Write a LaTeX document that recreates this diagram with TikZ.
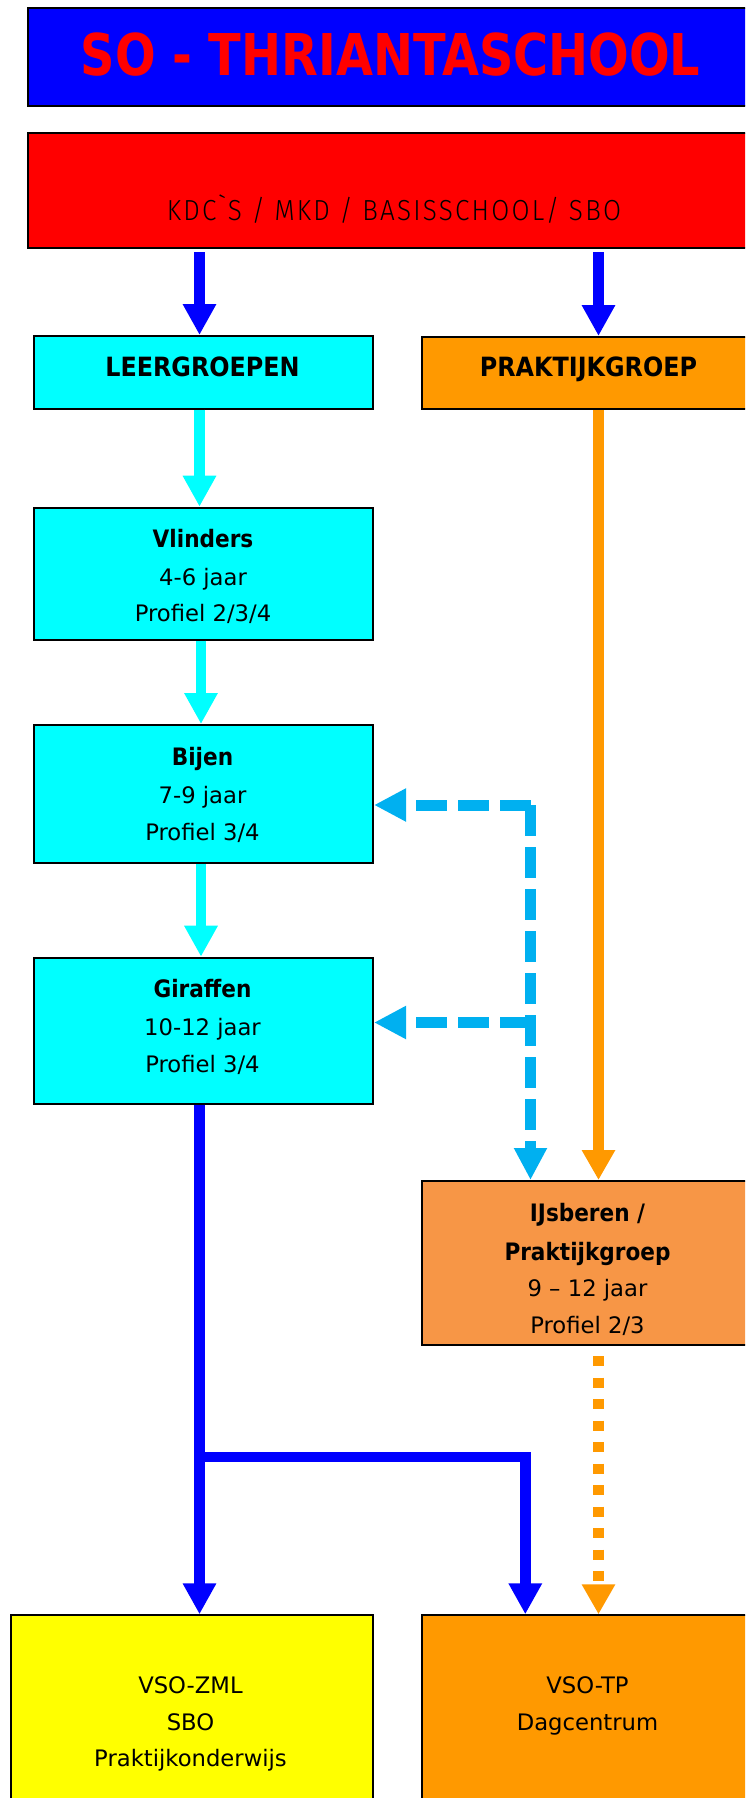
\documentclass[tikz,border=0pt]{standalone}
\usepackage{fontspec}
\setmainfont{DejaVu Sans}
\newfontfamily\titlefont[FakeStretch=0.83]{DejaVu Sans}
\newfontfamily\headfont[FakeStretch=0.9]{DejaVu Sans}
\newfontfamily\thinfont[FakeStretch=0.9,LetterSpace=7.6]{Fira Sans Light}
\usetikzlibrary{arrows.meta}
\definecolor{cBlue}{RGB}{0,0,255}
\definecolor{cRed}{RGB}{255,0,0}
\definecolor{cCyan}{RGB}{0,255,255}
\definecolor{cOrange}{RGB}{255,153,0}
\definecolor{cTan}{RGB}{247,150,70}
\definecolor{cYellow}{RGB}{255,255,0}
\definecolor{cSky}{RGB}{0,176,240}
\tikzset{
  box/.style={draw=black, line width=2pt, rectangle, inner sep=0pt, anchor=north west},
  txt/.style={anchor=base, inner sep=0pt, font=\fontsize{22.7}{28}\selectfont},
  hd/.style={anchor=base, inner sep=0pt, font=\headfont\bfseries\fontsize{24}{28}\selectfont},
  bighd/.style={anchor=base, inner sep=0pt, font=\headfont\bfseries\fontsize{26.5}{30}\selectfont},
  arrB/.style={draw=cBlue, line width=10.7pt, -{Triangle[width=31.5pt,length=31pt]}},
  arrC/.style={draw=cCyan, line width=10.7pt, -{Triangle[width=31.5pt,length=31pt]}},
  arrO/.style={draw=cOrange, line width=10.7pt, -{Triangle[width=31.5pt,length=30pt]}},
  arrD/.style={draw=cSky, line width=11pt, dash pattern=on 31pt off 11pt, -{Triangle[width=31pt,length=32pt]}},
  arrDot/.style={draw=cOrange, line width=10.7pt, dash pattern=on 10pt off 11.5pt, -{Triangle[width=31.5pt,length=30pt]}},
}
\begin{document}
\begin{tikzpicture}[x=1pt,y=-1pt]
\useasboundingbox (0,0) rectangle (745,1798);
\clip (0,0) rectangle (745,1798);
\fill[white] (0,0) rectangle (745,1798);

% columns and junctions
\coordinate (cL) at (199.5,0);
\coordinate (cL2) at (201,0);
\coordinate (cR) at (598.5,0);
\coordinate (cM) at (525.3,0);
\coordinate (jB) at (530.5,805);
\coordinate (jG) at (530.5,1022.5);
\coordinate (jH) at (199.5,1457);

% boxes
\node[box, fill=cBlue, minimum width=727pt, minimum height=98pt] (title) at (27,7) {};
\node[box, fill=cRed, minimum width=727pt, minimum height=115.3pt] (kdc) at (27,131.7) {};
\node[box, fill=cCyan, minimum width=339pt, minimum height=72.7pt] (lg) at (33,335) {};
\node[box, fill=cOrange, minimum width=334pt, minimum height=72pt] (pg) at (420.5,336) {};
\node[box, fill=cCyan, minimum width=339pt, minimum height=132pt] (vl) at (33,506.7) {};
\node[box, fill=cCyan, minimum width=339pt, minimum height=138.3pt] (bj) at (33,724) {};
\node[box, fill=cCyan, minimum width=339pt, minimum height=146pt] (gf) at (33,956.7) {};
\node[box, fill=cTan, minimum width=333.3pt, minimum height=164pt] (ij) at (420.7,1180) {};
\node[box, fill=cYellow, minimum width=362.5pt, minimum height=260pt] (zml) at (9.5,1614.3) {};
\node[box, fill=cOrange, minimum width=333.3pt, minimum height=260pt] (tp) at (420.7,1614.3) {};

% texts
\node[anchor=base, inner sep=0pt, text=cRed, font=\titlefont\bfseries\fontsize{57.6}{60}\selectfont] (titletxt) at (390.5,76) {SO - THRIANTASCHOOL};
\node[anchor=base, inner sep=0pt, font=\thinfont\fontsize{29}{32}\selectfont] (kdctxt) at (394,220) {KDC`S / MKD / BASISSCHOOL/ SBO};
\node[bighd] (lgtxt) at (202.5,376.7) {LEERGROEPEN};
\node[bighd] (pgtxt) at (588.5,376.7) {PRAKTIJKGROEP};

\node[hd] (vl1) at (203,547.7) {Vlinders};
\node[txt] (vl2) at (203,585) {4-6 jaar};
\node[txt] (vl3) at (203,621.7) {Profiel 2/3/4};

\node[hd] (bj1) at (202.5,765) {Bijen};
\node[txt] (bj2) at (202.5,803) {7-9 jaar};
\node[txt] (bj3) at (202.5,840) {Profiel 3/4};

\node[hd] (gf1) at (202.5,997.7) {Giraffen};
\node[txt] (gf2) at (202.5,1035) {10-12 jaar};
\node[txt] (gf3) at (202.5,1072.7) {Profiel 3/4};

\node[hd] (ij1) at (587.5,1221) {IJsberen /};
\node[hd] (ij2) at (587.5,1260) {Praktijkgroep};
\node[txt] (ij3) at (587.5,1296) {9 – 12 jaar};
\node[txt] (ij4) at (587.5,1333) {Profiel 2/3};

\node[txt] (zml1) at (190.5,1693) {VSO-ZML};
\node[txt] (zml2) at (190.5,1730.7) {SBO};
\node[txt] (zml3) at (190.5,1766.7) {Praktijkonderwijs};

\node[txt] (tp1) at (587.5,1693) {VSO-TP};
\node[txt] (tp2) at (587.5,1730.7) {Dagcentrum};

% connectors
\draw[arrB] ([yshift=-3pt]kdc.south -| cL) -- (lg.north -| cL);
\draw[arrB] ([yshift=-3pt]kdc.south -| cR) -- (pg.north -| cR);
\draw[arrC] (lg.south -| cL) -- (vl.north -| cL);
\draw[arrC] (vl.south -| cL2) -- (bj.north -| cL2);
\draw[arrC] (bj.south -| cL2) -- (gf.north -| cL2);
\draw[arrO] (pg.south -| cR) -- (ij.north -| cR);
\draw[arrD] (jB) -- (jB -| bj.east);
\draw[arrD] (jB) -- (jB |- ij.north);
\draw[arrD] (jG) -- (jG -| gf.east);
\draw[arrDot] ([yshift=-10pt]ij.south -| cR) -- (tp.north -| cR);
\draw[arrB] (gf.south -| cL) -- (zml.north -| cL);
\draw[arrB, line join=miter] (jH) -- (jH -| cM) -- (tp.north -| cM);
\end{tikzpicture}
\end{document}
